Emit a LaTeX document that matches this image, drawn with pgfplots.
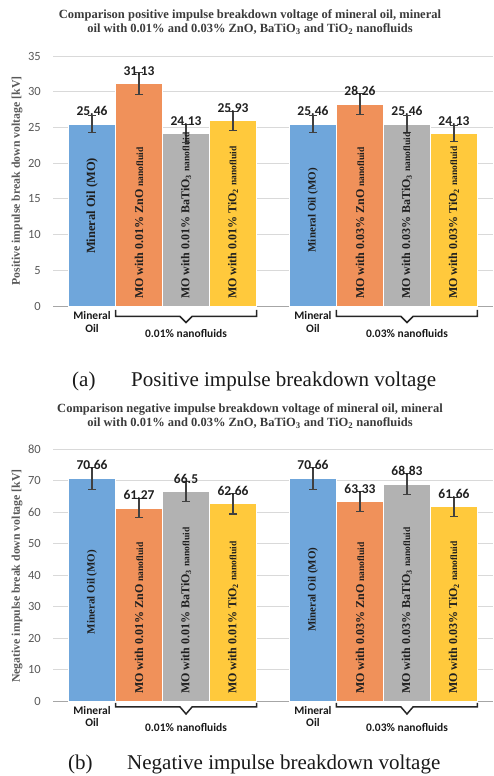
\documentclass[border=0pt]{standalone}
\usepackage{pgfplots}
\pgfplotsset{compat=1.18}
\usepackage{fontspec}
\setmainfont{Liberation Serif}
\newfontfamily\carlito{Carlito}
\definecolor{cblue}{HTML}{6FA6DB}
\definecolor{corange}{HTML}{F0915A}
\definecolor{cgray}{HTML}{B2B2B2}
\definecolor{cyellow}{HTML}{FFC93C}
\definecolor{gridgray}{HTML}{D9D9D9}
\definecolor{tickgray}{HTML}{595959}
\definecolor{ebgray}{HTML}{404040}
\definecolor{titlegray}{HTML}{3A3A3A}
\newcommand{\nf}{{\fontsize{9.5}{9.5}\selectfont nanofluid}}
\pgfplotsset{
 excelbar/.style={
   scale only axis, width=440pt,
   xmin=-0.83, xmax=8.53, ymin=0,
   axis line style={draw=none}, xtick=\empty,
   major tick length=0pt,
   ymajorgrids, grid style={color=gridgray, line width=0.8pt},
   yticklabel style={font=\carlito\fontsize{12.5}{12.5}\selectfont, text=tickgray, inner sep=0pt, xshift=-12pt},
   /pgf/number format/assume math mode=true,
   clip=false,
   nodes near coords,
   every node near coord/.append style={font=\carlito\bfseries\fontsize{13.5}{13.5}\selectfont, text=black!88, anchor=center, inner sep=0pt, yshift=13pt},
   error bars/y dir=both, error bars/y explicit,
   error bars/error bar style={line width=1.1pt, color=ebgray},
   error bars/error mark options={rotate=90, mark size=4pt, line width=1.1pt, color=ebgray},
 },
 mybar/.style={ybar, bar width=1, bar shift=0pt, fill=#1, draw=white, line width=0.8pt},
}
\tikzset{
 inlab/.style={rotate=90, font=\bfseries\fontsize{12}{12}\selectfont, text=black!88, inner sep=0pt},
 catlab/.style={font=\carlito\bfseries\fontsize{11.5}{11.5}\selectfont, text=black!90, inner sep=0pt, anchor=base},
 brk/.style={black!85, line width=1.5pt, line join=miter},
}
\begin{document}
\begin{tikzpicture}[x=1pt,y=1pt]
\useasboundingbox (0,0) rectangle (493,776);
% ---------- titles and captions ----------
\node[align=center, font=\bfseries\fontsize{12.5}{14.5}\selectfont, text=titlegray] at (250,754) {Comparison positive impulse breakdown voltage of mineral oil, mineral\\oil with 0.01\% and 0.03\% ZnO, BaTiO\textsubscript{3} and TiO\textsubscript{2} nanofluids};
\node[rotate=90, font=\bfseries\fontsize{11.8}{11.8}\selectfont, text=tickgray] at (17,595) {Positive impulse break down voltage [kV]};
\node[anchor=base west, font=\fontsize{21}{21}\selectfont, text=black!90, inner sep=0pt] at (72,389) {(a)};
\node[anchor=base west, font=\fontsize{21}{21}\selectfont, text=black!90, inner sep=0pt] at (131,389) {Positive impulse breakdown voltage};
\node[align=center, font=\bfseries\fontsize{12.5}{14.5}\selectfont, text=titlegray] at (250,360) {Comparison negative impulse breakdown voltage of mineral oil, mineral\\oil with 0.01\% and 0.03\% ZnO, BaTiO\textsubscript{3} and TiO\textsubscript{2} nanofluids};
\node[rotate=90, font=\bfseries\fontsize{11.8}{11.8}\selectfont, text=tickgray] at (17,200) {Negative impulse break down voltage [kV]};
\node[anchor=base west, font=\fontsize{21}{21}\selectfont, text=black!90, inner sep=0pt] at (68,6) {(b)};
\node[anchor=base west, font=\fontsize{21}{21}\selectfont, text=black!90, inner sep=0pt] at (127,6) {Negative impulse breakdown voltage};
% ---------- top chart ----------
\begin{axis}[excelbar, at={(53pt,470pt)}, anchor=south west, height=250pt, ymax=35, ytick={0,5,...,35}]
\draw[color=gray!70, line width=0.8pt] (axis cs:-0.83,0) -- (axis cs:8.53,0);
\addplot[mybar=cblue] coordinates {(0,25.46) +- (0,1.2) (4.7,25.46) +- (0,1.2)};
\addplot[mybar=corange] coordinates {(1,31.13) +- (0,1.5) (5.7,28.26) +- (0,1.45)};
\addplot[mybar=cgray] coordinates {(2,24.13) +- (0,1.25) (6.7,25.46) +- (0,1.2)};
\addplot[mybar=cyellow] coordinates {(3,25.93) +- (0,1.3) (7.7,24.13) +- (0,1.15)};
\node[inlab, font=\bfseries\fontsize{12.5}{12.5}\selectfont, anchor=center] at (axis cs:0,14.0) {Mineral Oil (MO)};
\node[inlab, anchor=west] at ([yshift=7pt]axis cs:1,0) {MO with 0.01\% ZnO \nf};
\node[inlab, anchor=west] at ([yshift=7pt]axis cs:2,0) {MO with 0.01\% BaTiO\textsubscript{3} \nf};
\node[inlab, anchor=west] at ([yshift=7pt]axis cs:3,0) {MO with 0.01\% TiO\textsubscript{2} \nf};
\node[inlab, font=\bfseries\fontsize{11}{11}\selectfont, anchor=center] at (axis cs:4.7,13.4) {Mineral Oil (MO)};
\node[inlab, anchor=west] at ([yshift=7pt]axis cs:5.7,0) {MO with 0.03\% ZnO \nf};
\node[inlab, anchor=west] at ([yshift=7pt]axis cs:6.7,0) {MO with 0.03\% BaTiO\textsubscript{3} \nf};
\node[inlab, anchor=west] at ([yshift=7pt]axis cs:7.7,0) {MO with 0.03\% TiO\textsubscript{2} \nf};
\node[catlab] at ([yshift=-14pt]axis cs:0,0) {Mineral};
\node[catlab] at ([yshift=-26.5pt]axis cs:0,0) {Oil};
\node[catlab] at ([yshift=-14pt]axis cs:4.7,0) {Mineral};
\node[catlab] at ([yshift=-26.5pt]axis cs:4.7,0) {Oil};
\node[catlab] at ([yshift=-32pt]axis cs:2,0) {0.01\% nanofluids};
\node[catlab] at ([yshift=-32pt]axis cs:6.7,0) {0.03\% nanofluids};
\draw[brk] ([yshift=-4pt]axis cs:0.5,0) -- ([yshift=-10.5pt]axis cs:0.5,0) -- ([xshift=-6pt,yshift=-10.5pt]axis cs:2,0) -- ([yshift=-16.5pt]axis cs:2,0) -- ([xshift=6pt,yshift=-10.5pt]axis cs:2,0) -- ([yshift=-10.5pt]axis cs:3.5,0) -- ([yshift=-4pt]axis cs:3.5,0);
\draw[brk] ([yshift=-4pt]axis cs:5.2,0) -- ([yshift=-10.5pt]axis cs:5.2,0) -- ([xshift=-6pt,yshift=-10.5pt]axis cs:6.7,0) -- ([yshift=-16.5pt]axis cs:6.7,0) -- ([xshift=6pt,yshift=-10.5pt]axis cs:6.7,0) -- ([yshift=-10.5pt]axis cs:8.2,0) -- ([yshift=-4pt]axis cs:8.2,0);
\end{axis}
% ---------- bottom chart ----------
\begin{axis}[excelbar, at={(53pt,75pt)}, anchor=south west, height=252pt, ymax=80, ytick={0,10,...,80}]
\draw[color=gray!70, line width=0.8pt] (axis cs:-0.83,0) -- (axis cs:8.53,0);
\addplot[mybar=cblue] coordinates {(0,70.66) +- (0,3.5) (4.7,70.66) +- (0,3.5)};
\addplot[mybar=corange] coordinates {(1,61.27) +- (0,3.0) (5.7,63.33) +- (0,3.2)};
\addplot[mybar=cgray] coordinates {(2,66.5) +- (0,3.3) (6.7,68.83) +- (0,3.4)};
\addplot[mybar=cyellow] coordinates {(3,62.66) +- (0,3.3) (7.7,61.66) +- (0,3.0)};
\node[inlab, font=\bfseries\fontsize{11}{11}\selectfont, anchor=center] at (axis cs:0,34.6) {Mineral Oil (MO)};
\node[inlab, anchor=west] at ([yshift=7pt]axis cs:1,0) {MO with 0.01\% ZnO \nf};
\node[inlab, anchor=west] at ([yshift=7pt]axis cs:2,0) {MO with 0.01\% BaTiO\textsubscript{3} \nf};
\node[inlab, anchor=west] at ([yshift=7pt]axis cs:3,0) {MO with 0.01\% TiO\textsubscript{2} \nf};
\node[inlab, font=\bfseries\fontsize{11}{11}\selectfont, anchor=center] at (axis cs:4.7,35.3) {Mineral Oil (MO)};
\node[inlab, anchor=west] at ([yshift=7pt]axis cs:5.7,0) {MO with 0.03\% ZnO \nf};
\node[inlab, anchor=west] at ([yshift=7pt]axis cs:6.7,0) {MO with 0.03\% BaTiO\textsubscript{3} \nf};
\node[inlab, anchor=west] at ([yshift=7pt]axis cs:7.7,0) {MO with 0.03\% TiO\textsubscript{2} \nf};
\node[catlab] at ([yshift=-13pt]axis cs:0,0) {Mineral};
\node[catlab] at ([yshift=-26pt]axis cs:0,0) {Oil};
\node[catlab] at ([yshift=-13pt]axis cs:4.7,0) {Mineral};
\node[catlab] at ([yshift=-26pt]axis cs:4.7,0) {Oil};
\node[catlab] at ([yshift=-30.5pt]axis cs:2,0) {0.01\% nanofluids};
\node[catlab] at ([yshift=-30.5pt]axis cs:6.7,0) {0.03\% nanofluids};
\draw[brk] ([yshift=-2pt]axis cs:0.5,0) -- ([yshift=-6pt]axis cs:0.5,0) -- ([xshift=-6pt,yshift=-6pt]axis cs:2,0) -- ([yshift=-13pt]axis cs:2,0) -- ([xshift=6pt,yshift=-6pt]axis cs:2,0) -- ([yshift=-6pt]axis cs:3.5,0) -- ([yshift=-2pt]axis cs:3.5,0);
\draw[brk] ([yshift=-2pt]axis cs:5.2,0) -- ([yshift=-6pt]axis cs:5.2,0) -- ([xshift=-6pt,yshift=-6pt]axis cs:6.7,0) -- ([yshift=-13pt]axis cs:6.7,0) -- ([xshift=6pt,yshift=-6pt]axis cs:6.7,0) -- ([yshift=-6pt]axis cs:8.2,0) -- ([yshift=-2pt]axis cs:8.2,0);
\end{axis}
\end{tikzpicture}
\end{document}
